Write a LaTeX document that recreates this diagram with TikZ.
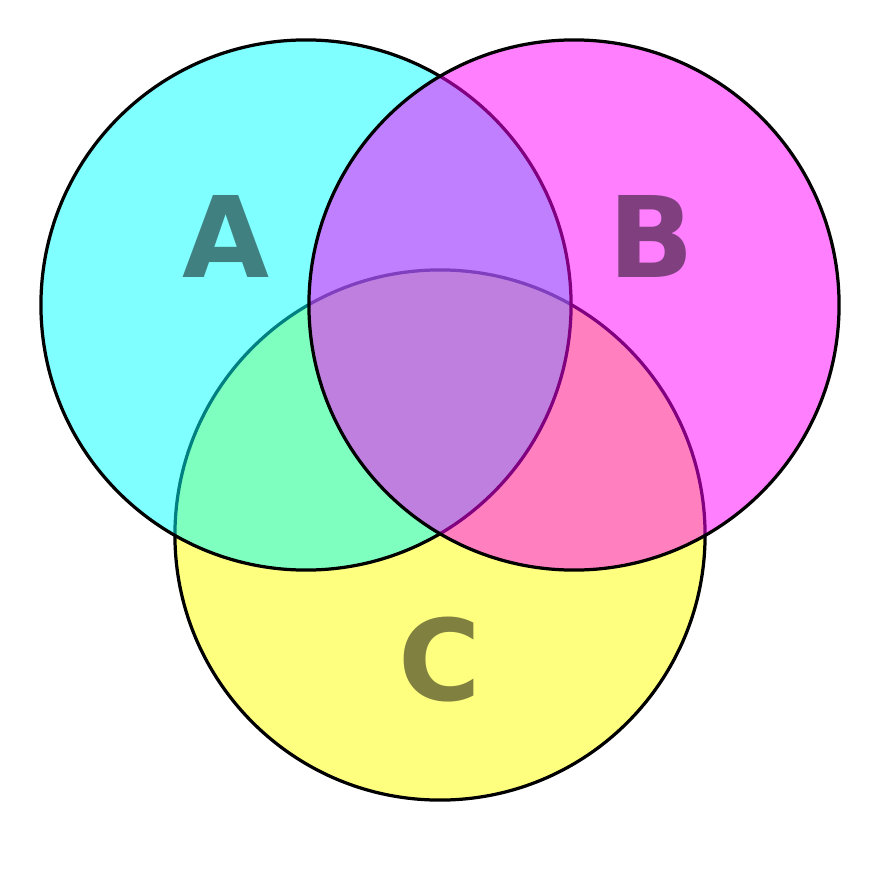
\documentclass[tikz,border=0pt]{standalone}
\usepackage{fontspec}
\setmainfont{DejaVu Sans}
\definecolor{cy}{RGB}{0,255,255}
\definecolor{mg}{RGB}{255,0,255}
\definecolor{yl}{RGB}{255,255,0}
\begin{document}
\begin{tikzpicture}[x=0.025cm,y=-0.025cm,
  circ/.style={circle,draw=black,line width=2.3pt,fill opacity=0.5,minimum size=13.25cm,inner sep=0pt},
  lab/.style={font=\fontsize{80}{80}\selectfont\bfseries}]
\fill[white] (0,0) rectangle (880,880);
\node[circ,fill=yl] (c) at (440,535) {};
\node[circ,fill=cy] (a) at (306,305) {};
\node[circ,fill=mg] (b) at (574,305) {};
\node[lab,text={rgb,255:red,64;green,128;blue,128}] (la) at (226,236) {A};
\node[lab,text={rgb,255:red,128;green,64;blue,128}] (lb) at (651,236) {B};
\node[lab,text={rgb,255:red,128;green,128;blue,64}] (lc) at (440,660) {C};
\end{tikzpicture}
\end{document}
